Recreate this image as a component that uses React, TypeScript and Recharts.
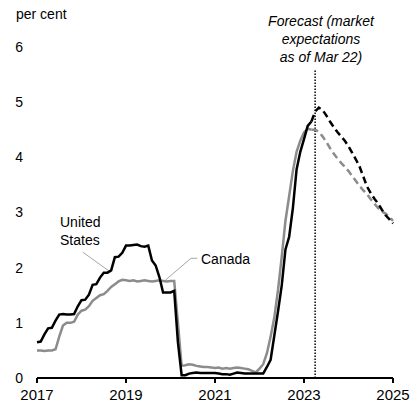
import { LineChart, Line, XAxis, YAxis, ReferenceLine } from 'recharts';

// monthly, Jan 2017 .. Mar 2023
const usActual = [
  0.65, 0.66, 0.79, 0.9, 0.91, 1.04, 1.15, 1.16, 1.15, 1.15, 1.16, 1.3,
  1.41, 1.42, 1.51, 1.69, 1.7, 1.82, 1.91, 1.91, 1.95, 2.19, 2.2, 2.27,
  2.4, 2.4, 2.41, 2.42, 2.39, 2.38, 2.4, 2.13, 2.04, 1.83, 1.55, 1.55,
  1.55, 1.58, 0.65, 0.05, 0.05, 0.08, 0.09, 0.1, 0.09, 0.09, 0.09, 0.09,
  0.09, 0.08, 0.07, 0.07, 0.06, 0.08, 0.1, 0.09, 0.08, 0.08, 0.08, 0.08,
  0.08, 0.08, 0.2, 0.33, 0.77, 1.21, 1.68, 2.33, 2.56, 3.08, 3.78, 4.1,
  4.33, 4.57, 4.65,
];
const canadaActual = [
  0.5, 0.5, 0.49, 0.5, 0.5, 0.52, 0.75, 0.95, 1.0, 1.0, 1.02, 1.15,
  1.22, 1.24, 1.3, 1.4, 1.45, 1.5, 1.52, 1.58, 1.65, 1.7, 1.75, 1.78,
  1.77, 1.76, 1.77, 1.75, 1.76, 1.77, 1.76, 1.75, 1.76, 1.77, 1.76, 1.75,
  1.76, 1.76, 1.0, 0.22, 0.23, 0.25, 0.24, 0.22, 0.21, 0.2, 0.2, 0.19,
  0.18, 0.19, 0.17, 0.18, 0.17, 0.18, 0.19, 0.18, 0.17, 0.16, 0.13, 0.1,
  0.17, 0.25, 0.45, 0.75, 1.1, 1.6, 2.2, 2.85, 3.3, 3.75, 4.1, 4.3,
  4.45, 4.52, 4.5,
];
// market expectations, Mar 2023 .. Jan 2025
const usForecast = [
  4.65, 4.83, 4.9, 4.86, 4.76, 4.65, 4.55, 4.46, 4.38, 4.3, 4.2, 4.08,
  3.96, 3.83, 3.65, 3.47, 3.35, 3.25, 3.16, 3.05, 2.95, 2.88, 2.8,
];
const canadaForecast = [
  4.5, 4.5, 4.46, 4.38, 4.28, 4.17, 4.07, 3.98, 3.9, 3.83, 3.75, 3.66,
  3.57, 3.48, 3.4, 3.33, 3.24, 3.16, 3.08, 3.02, 2.98, 2.92, 2.85,
];
const forecastStart = usActual.length - 1;
const yearTicks = [2017, 2019, 2021, 2023, 2025];
const rateTicks = [0, 1, 2, 3, 4, 5, 6];

const rows = [];
for (let i = 0; i < forecastStart + usForecast.length; i++) {
  const f = i - forecastStart;
  rows.push({
    t: 2017 + i / 12,
    us: i < usActual.length ? usActual[i] : null,
    ca: i < canadaActual.length ? canadaActual[i] : null,
    usF: f >= 0 ? usForecast[f] : null,
    caF: f >= 0 ? canadaForecast[f] : null,
  });
}

const font = '"Liberation Sans", Arial, sans-serif';
const grey = '#8c8c8c';

export default function App() {
  return (
    <div style={{ position: 'absolute', left: 0, top: 0, width: 414, height: 411, fontFamily: font, background: '#fff' }}>
      <LineChart width={414} height={411} data={rows} margin={{ top: 47, right: 21, left: 0, bottom: 0 }}>
        <XAxis
          dataKey="t"
          type="number"
          domain={[2017, 2025]}
          ticks={yearTicks}
          height={33}
          stroke="#000"
          strokeWidth={2}
          tickSize={5}
          tickMargin={6}
          tick={{ fill: '#000', fontSize: 15, fontFamily: font }}
        />
        <YAxis
          domain={[0, 6]}
          ticks={rateTicks}
          width={37}
          axisLine={false}
          tickLine={false}
          tickMargin={8}
          tick={{ fill: '#000', fontSize: 14, fontFamily: font }}
        />
        <ReferenceLine segment={[{ x: 2023.25, y: 0 }, { x: 2023.25, y: 5.6 }]} stroke="#000" strokeWidth={1.5} strokeDasharray="1.5 1.5" />
        <ReferenceLine segment={[{ x: 2018.03, y: 2.28 }, { x: 2018.6, y: 1.95 }]} stroke="#a6a6a6" strokeWidth={1} />
        <ReferenceLine segment={[{ x: 2019.88, y: 1.77 }, { x: 2020.46, y: 2.17 }]} stroke="#a6a6a6" strokeWidth={1} />
        <ReferenceLine segment={[{ x: 2020.46, y: 2.17 }, { x: 2020.6, y: 2.17 }]} stroke="#a6a6a6" strokeWidth={1} />
        <Line dataKey="caF" stroke={grey} strokeWidth={2.5} strokeDasharray="7 4" dot={false} isAnimationActive={false} />
        <Line dataKey="ca" stroke={grey} strokeWidth={2.5} dot={false} isAnimationActive={false} />
        <Line dataKey="usF" stroke="#000" strokeWidth={2.5} strokeDasharray="7 4" dot={false} isAnimationActive={false} />
        <Line dataKey="us" stroke="#000" strokeWidth={2.5} dot={false} isAnimationActive={false} />
      </LineChart>
      <div style={{ position: 'absolute', left: 16, top: 6, fontSize: 14 }}>per cent</div>
      <div style={{ position: 'absolute', left: 241, top: 0, width: 160, height: 55, paddingTop: 12, background: '#fff', textAlign: 'center', fontSize: 14, fontStyle: 'italic', lineHeight: '18px' }}>
        Forecast (market<br />expectations<br />as of Mar 22)
      </div>
      <div style={{ position: 'absolute', left: 60, top: 213, fontSize: 14, lineHeight: '18px' }}>
        United<br />States
      </div>
      <div style={{ position: 'absolute', left: 201, top: 251, fontSize: 14 }}>Canada</div>
    </div>
  );
}
